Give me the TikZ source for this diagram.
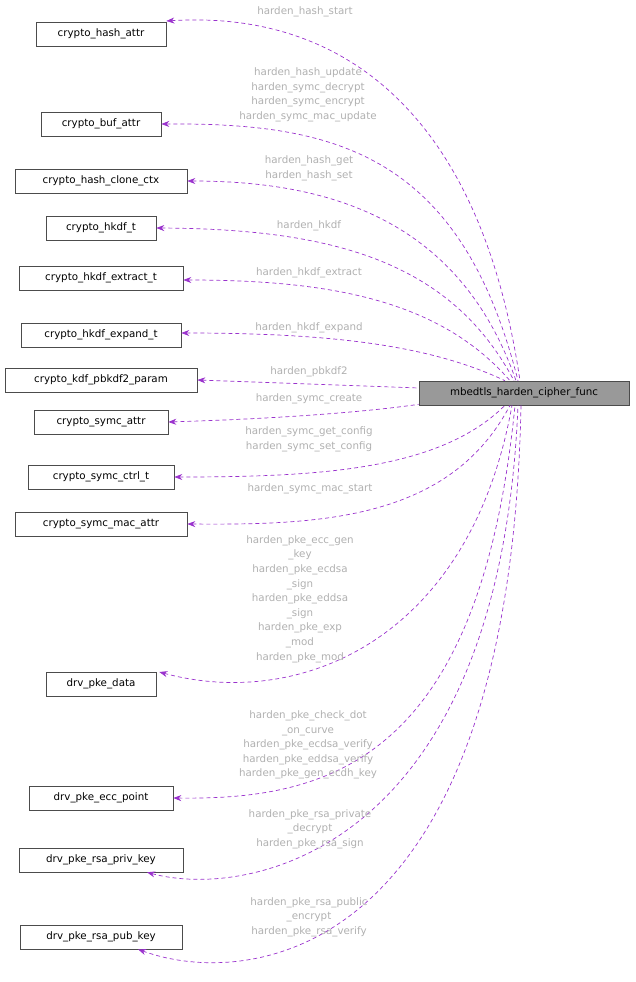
\documentclass[tikz,border=0pt]{standalone}
\usepackage{fontspec}
\setmainfont{DejaVu Sans}
\usetikzlibrary{calc,arrows.meta}
\definecolor{edge}{HTML}{9A32CD}
\definecolor{lbl}{HTML}{B0B0B0}
\begin{document}
\begin{tikzpicture}[x=1pt,y=-1pt,
 box/.style={draw=black!70,line width=0.6pt,fill=white,minimum height=24pt,inner sep=2pt,font=\fontsize{10.3}{12}\selectfont},
 dep/.style={draw=edge,dashed,dash pattern=on 4pt off 3pt,line width=0.7pt,{Stealth[length=8pt,width=6pt]}-},
 lab/.style={text=lbl,align=center,font=\fontsize{10.3}{14.6}\selectfont,inner sep=0pt}]
\useasboundingbox (0,0) rectangle (635,982);
\node[box,minimum width=130pt] (hash) at (101,34) {crypto\_hash\_attr};
\node[box,minimum width=120pt] (buf) at (101,124) {crypto\_buf\_attr};
\node[box,minimum width=172pt] (clone) at (101,181) {crypto\_hash\_clone\_ctx};
\node[box,minimum width=110pt] (hkdf) at (101,228) {crypto\_hkdf\_t};
\node[box,minimum width=164pt] (extract) at (101,278) {crypto\_hkdf\_extract\_t};
\node[box,minimum width=160pt] (expand) at (101,335) {crypto\_hkdf\_expand\_t};
\node[box,minimum width=192pt] (pbkdf) at (101,380) {crypto\_kdf\_pbkdf2\_param};
\node[box,minimum width=134pt] (symc) at (101,422) {crypto\_symc\_attr};
\node[box,minimum width=146pt] (ctrl) at (101,477) {crypto\_symc\_ctrl\_t};
\node[box,minimum width=172pt] (mac) at (101,524) {crypto\_symc\_mac\_attr};
\node[box,minimum width=110pt] (data) at (101,684) {drv\_pke\_data};
\node[box,minimum width=144pt] (ecc) at (101,798) {drv\_pke\_ecc\_point};
\node[box,minimum width=164pt] (priv) at (101,860) {drv\_pke\_rsa\_priv\_key};
\node[box,minimum width=162pt] (pub) at (101,937) {drv\_pke\_rsa\_pub\_key};
\node[box,minimum width=210pt,fill=black!40] (main) at (524,393) {mbedtls\_harden\_cipher\_func};

\draw[dep] ($(hash.east)+(0,-13)$) .. controls (340,10) and (480,110) .. ($(main.north)+(-4,0)$);
\draw[dep] (buf.east) .. controls (330,123) and (460,150) .. ($(main.north)+(-6,0)$);
\draw[dep] (clone.east) .. controls (330,181) and (460,220) .. ($(main.north)+(-8,0)$);
\draw[dep] (hkdf.east) .. controls (330,229) and (450,260) .. ($(main.north)+(-10,0)$);
\draw[dep] ($(extract.east)+(0,2)$) .. controls (330,280) and (440,300) .. ($(main.north)+(-14,0)$);
\draw[dep] ($(expand.east)+(0,-2)$) .. controls (330,333) and (430,345) .. ($(main.north)+(-19,0)$);
\draw[dep] (pbkdf.east) -- ($(main.west)+(0,-5)$);
\draw[dep] (symc.east) .. controls (300,418) and (380,410) .. ($(main.south west)+(0,-1)$);
\draw[dep] (ctrl.east) .. controls (320,477) and (440,470) .. ($(main.south)+(-19,0)$);
\draw[dep] (mac.east) .. controls (320,525) and (450,520) .. ($(main.south)+(-14,0)$);
\draw[dep] ($(data.east)+(3,-12)$) .. controls (300,710) and (470,640) .. ($(main.south)+(-12,0)$);
\draw[dep] (ecc.east) .. controls (330,800) and (480,760) .. ($(main.south)+(-9,0)$);
\draw[dep] ($(priv.south)+(46,0)$) .. controls (250,900) and (500,850) .. ($(main.south)+(-6,0)$);
\draw[dep] ($(pub.south)+(37,0)$) .. controls (250,990) and (510,960) .. ($(main.south)+(-3,0)$);

\node[lab] (l1) at (305,12) {harden\_hash\_start};
\node[lab] (l2) at (308,95) {harden\_hash\_update\\harden\_symc\_decrypt\\harden\_symc\_encrypt\\harden\_symc\_mac\_update};
\node[lab] (l3) at (309,168) {harden\_hash\_get\\harden\_hash\_set};
\node[lab] (l4) at (309,226) {harden\_hkdf};
\node[lab] (l5) at (309,273) {harden\_hkdf\_extract};
\node[lab] (l6) at (309,328) {harden\_hkdf\_expand};
\node[lab] (l7) at (309,372) {harden\_pbkdf2};
\node[lab] (l8) at (309,399) {harden\_symc\_create};
\node[lab] (l9) at (309,439) {harden\_symc\_get\_config\\harden\_symc\_set\_config};
\node[lab] (l10) at (310,489) {harden\_symc\_mac\_start};
\node[lab] (l11) at (300,599) {harden\_pke\_ecc\_gen\\\_key\\harden\_pke\_ecdsa\\\_sign\\harden\_pke\_eddsa\\\_sign\\harden\_pke\_exp\\\_mod\\harden\_pke\_mod};
\node[lab] (l12) at (308,745) {harden\_pke\_check\_dot\\\_on\_curve\\harden\_pke\_ecdsa\_verify\\harden\_pke\_eddsa\_verify\\harden\_pke\_gen\_ecdh\_key};
\node[lab] (l13) at (310,829) {harden\_pke\_rsa\_private\\\_decrypt\\harden\_pke\_rsa\_sign};
\node[lab] (l14) at (309,917) {harden\_pke\_rsa\_public\\\_encrypt\\harden\_pke\_rsa\_verify};
\end{tikzpicture}
\end{document}
